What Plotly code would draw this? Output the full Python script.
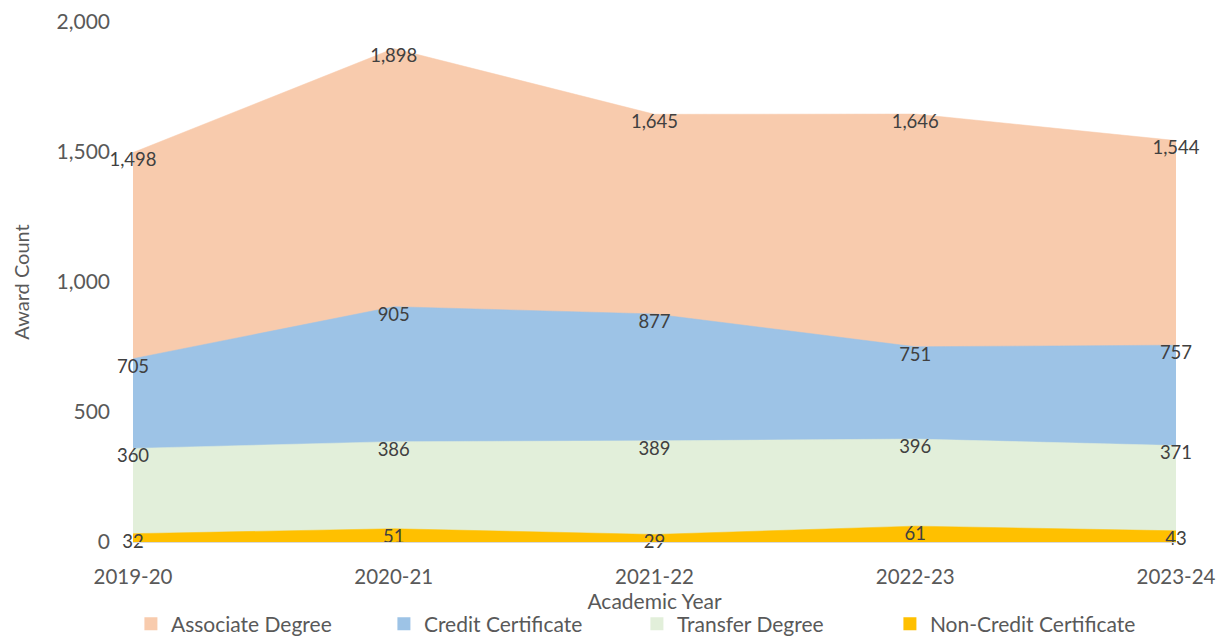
import plotly.graph_objects as go

years = ["2019-20", "2020-21", "2021-22", "2022-23", "2023-24"]
associate = [1498, 1898, 1645, 1646, 1544]
credit = [705, 905, 877, 751, 757]
transfer = [360, 386, 389, 396, 371]
noncredit = [32, 51, 29, 61, 43]
y_ticks = [0, 500, 1000, 1500, 2000]

series = [
    ("Associate Degree", associate, "#F8CBAD"),
    ("Credit Certificate", credit, "#9DC3E6"),
    ("Transfer Degree", transfer, "#E2EFDA"),
    ("Non-Credit Certificate", noncredit, "#FFC000"),
]

FONT = "Lato, Open Sans, sans-serif"
fig = go.Figure()
for name, vals, col in series:
    fig.add_trace(go.Scatter(
        x=years, y=vals, name=name, mode="lines+text",
        fill="tozeroy", fillcolor=col,
        line=dict(color=col, width=0.5),
        text=[f"{v:,}" for v in vals],
        textposition="bottom center",
        textfont=dict(family=FONT, size=18.5, color="#404040"),
        cliponaxis=False, showlegend=False,
    ))
# legend entries (square swatches)
for name, vals, col in series:
    fig.add_trace(go.Scatter(
        x=[None], y=[None], name=name, mode="markers",
        marker=dict(symbol="square", size=13, color=col),
        showlegend=True,
    ))

fig.update_layout(
    width=1216, height=638,
    margin=dict(l=133, r=40, t=22, b=96, autoexpand=False),
    plot_bgcolor="white", paper_bgcolor="white",
    font=dict(family=FONT, color="#595959"),
    showlegend=True,
    legend=dict(orientation="h", x=-0.002, xanchor="left", y=-0.158, yanchor="middle",
                font=dict(size=21, color="#595959"), entrywidth=208,
                itemwidth=30, traceorder="normal", bgcolor="rgba(0,0,0,0)"),
    xaxis=dict(range=[0, 4], showgrid=False, showline=True, linecolor="#D9D9D9",
               linewidth=1, ticks="", tickfont=dict(size=20.5, color="#595959"),
               ticklabelstandoff=16, automargin=False,
               title=dict(text="Academic Year", font=dict(size=21, color="#595959"), standoff=6),
               zeroline=False),
    yaxis=dict(range=[0, 2000], tickvals=y_ticks, tickformat=",", showgrid=True,
               gridcolor="#D9D9D9", gridwidth=1, zeroline=False, showline=False,
               ticks="", ticklabelstandoff=22, automargin=False,
               tickfont=dict(size=21, color="#595959"),
               title=dict(text="Award Count", font=dict(size=20, color="#595959"), standoff=21)),
)

fig.write_html(
    "out.html",
    config={"displayModeBar": False},
    post_script="document.body.style.margin='0';document.body.style.overflow='hidden';",
)
